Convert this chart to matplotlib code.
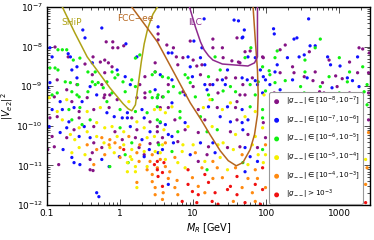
import numpy as np
import matplotlib
matplotlib.use("Agg")
import matplotlib.pyplot as plt
from matplotlib.ticker import LogLocator, NullFormatter

# ---------------- data (log10 M_R [GeV], log10 |V_e2|^2) ----------------
purple_logM = [-0.19,-0.10,0.05,-0.10,-0.03,-0.89,-0.71,-0.37,-0.21,-0.16,-0.27,-0.11,-0.48,-0.38,-0.21,0.34,-0.59,-0.86,-0.25,-0.73,-0.21,0.27,0.34,
               0.52,0.52,0.96,1.27,1.60,0.64,0.73,1.27,1.40,1.78,1.71,0.77,0.86,1.00,1.41,1.62,1.53,1.64,1.95,0.48,0.79,1.05,1.12,0.48,1.10,1.33,1.45,1.58,1.81,0.66,1.00,1.23,1.68,0.86,1.34,1.64,1.71,1.60,
               2.26,3.27,3.32,2.19,2.59,1.96,2.86,3.41,2.36,3.14,2.19,2.38,2.67,3.25,2.52,2.64,2.95,3.04,3.40,2.77,2.97,2.11,2.73,2.79,3.14,3.40,2.63,
               -0.90,-0.66,-0.45,-0.22,-0.14,-0.04,0.23,0.34,0.58,-0.56,-0.36,-0.15,0.55,-0.96,-0.86,-0.56,0.16,0.41,-0.63,-0.36,-0.07,0.23,0.51,-0.93,-0.73,0.03,0.21,0.58,-0.36,0.41,-0.90,-0.25,0.26,-0.38,0.33,-0.41,-0.84,-0.41,-0.37,-0.99,
               0.66,1.07,1.33,1.58,0.75,1.16,1.60,1.96,0.51,0.89,1.07,1.51,1.75,1.99,0.52,0.79,1.21,1.47,1.64,1.88,1.19,1.07,3.40]
purple_logV = [-7.88,-7.88,-7.98,-8.03,-8.03,-8.01,-8.26,-8.26,-8.34,-8.41,-8.39,-8.51,-8.44,-8.71,-8.66,-8.76,-8.96,-8.84,-8.96,-9.09,-9.22,-8.96,-9.17,
               -7.68,-7.83,-7.86,-7.81,-7.78,-7.96,-8.03,-8.03,-8.03,-8.11,-8.13,-8.26,-8.28,-8.34,-8.28,-8.39,-8.36,-8.41,-8.26,-8.41,-8.46,-8.49,-8.46,-8.64,-8.71,-8.84,-8.79,-8.79,-8.79,-8.96,-9.01,-8.96,-8.96,-9.14,-9.17,-9.22,-9.22,-9.39,
               -7.96,-8.03,-8.06,-8.08,-8.13,-8.28,-8.34,-8.16,-8.51,-8.39,-8.66,-8.66,-8.64,-8.66,-8.76,-8.86,-8.74,-8.81,-8.66,-8.91,-9.01,-9.17,-9.14,-9.17,-9.17,-9.17,-9.29,
               -9.27,-9.39,-9.29,-9.29,-9.22,-9.34,-9.29,-9.29,-9.27,-9.64,-9.59,-9.54,-9.54,-9.80,-9.77,-9.80,-9.80,-9.90,-10.10,-10.02,-10.15,-10.10,-10.02,-10.27,-10.30,-10.35,-10.30,-10.30,-10.43,-10.45,-10.53,-10.55,-10.55,-10.68,-10.73,-10.85,-10.98,-11.11,-11.13,-10.60,
               -9.54,-9.59,-9.54,-9.54,-9.85,-9.85,-9.85,-9.92,-10.15,-10.10,-10.17,-10.15,-10.22,-10.30,-10.43,-10.40,-10.53,-10.55,-10.53,-10.55,-10.73,-10.90,-9.85]

blue_logM = [-0.25,-0.51,-0.48,0.08,-0.96,-0.93,-0.71,-0.68,-0.38,0.23,-0.59,-0.66,-0.04,0.07,-0.59,-0.96,-0.41,-0.99,0.14,0.48,
             0.52,1.15,1.56,1.62,1.70,1.68,1.67,1.01,1.12,0.66,0.71,0.93,1.10,1.75,1.85,0.96,1.16,1.47,1.92,0.55,0.71,0.99,1.40,1.67,1.74,1.85,1.96,1.16,1.27,1.44,1.88,0.89,1.19,1.95,0.71,
             2.58,2.10,2.11,2.38,2.42,2.60,2.67,2.52,2.45,2.84,3.25,2.29,2.15,3.01,2.88,2.12,1.99,2.56,2.36,3.11,3.18,2.05,2.90,3.27,2.19,2.84,3.21,
             -0.82,-0.52,-0.32,0.51,-0.93,-0.79,-0.63,-0.18,0.10,0.30,-0.70,-0.08,0.03,0.10,0.33,0.62,-0.97,-0.73,-0.49,0.14,0.41,-0.82,-0.56,-0.41,0.30,0.40,0.58,-0.66,-0.63,-0.25,-0.01,0.33,-0.15,-0.32,-0.29,-0.78,-0.55,
             1.21,1.47,1.67,0.55,0.89,1.37,1.51,1.67,1.75,0.66,0.71,1.68,0.73,1.10,1.27,1.71,0.52,0.96,1.30,1.78,1.88,1.71,0.66]
blue_logV = [-7.53,-7.58,-7.78,-7.93,-8.03,-8.26,-8.18,-8.26,-8.41,-8.26,-8.51,-8.59,-8.59,-8.76,-8.79,-8.91,-9.01,-9.04,-8.96,-9.09,
             -7.50,-7.30,-7.33,-7.35,-7.58,-7.76,-7.78,-7.86,-8.03,-8.16,-8.16,-8.26,-8.28,-8.26,-8.28,-8.51,-8.46,-8.59,-8.59,-8.71,-8.84,-8.76,-8.84,-8.79,-8.84,-8.86,-8.76,-8.96,-8.96,-8.96,-8.96,-9.22,-9.09,-9.17,-9.42,
             -7.30,-7.55,-7.68,-7.81,-7.78,-7.98,-7.98,-8.21,-8.26,-8.26,-8.26,-8.28,-8.46,-8.49,-8.46,-8.64,-8.84,-8.79,-8.84,-8.79,-8.86,-8.96,-9.04,-9.01,-9.09,-9.22,-9.22,
             -9.39,-9.39,-9.22,-9.29,-9.59,-9.59,-9.54,-9.67,-9.67,-9.59,-9.90,-9.77,-9.80,-9.80,-9.80,-9.97,-10.02,-10.05,-10.02,-10.02,-10.15,-10.17,-10.27,-10.30,-10.35,-10.60,-10.60,-10.80,-10.93,-10.85,-10.78,-10.78,-11.03,-11.69,-11.79,-10.60,-10.98,
             -9.52,-9.52,-9.59,-9.92,-9.92,-9.77,-9.90,-9.92,-9.85,-10.22,-10.27,-10.10,-10.43,-10.43,-10.43,-10.55,-10.68,-10.73,-10.68,-10.78,-10.90,-11.16,-11.48]

green_logM = [-0.73,-0.79,-0.85,-0.64,-0.55,0.21,0.27,-0.96,-0.89,-0.85,-0.44,-0.34,-0.11,-0.03,-0.07,0.04,0.16,0.44,0.48,-0.75,-0.68,-0.58,-0.38,-0.34,-0.30,-0.18,-0.44,-0.93,-0.86,-0.66,-0.59,-0.23,-0.11,0.21,0.41,0.07,
              1.79,1.30,1.71,1.37,1.95,0.58,0.66,0.89,0.93,1.21,1.89,0.73,0.96,1.51,1.78,0.52,0.59,0.66,0.82,1.03,1.21,1.26,1.41,1.58,1.85,0.51,
              2.74,2.67,2.15,3.00,2.12,2.53,2.04,2.05,2.53,3.32,3.14,2.26,2.86,3.11,2.12,2.47,2.74,3.38,1.99,2.52,3.00,3.34,
              -0.56,-0.18,0.44,-0.70,-0.55,0.00,0.21,0.37,-0.66,-0.41,-0.52,0.55,0.00,0.16,0.53,0.07,0.11,-0.14,
              0.51,0.82,1.78,1.95,0.51,0.82,1.10,1.95,0.79,1.19,1.33,1.95,0.71,1.68,1.19,3.38]
green_logV = [-8.08,-8.08,-8.08,-8.34,-8.29,-8.29,-8.21,-8.54,-8.54,-8.59,-8.64,-8.64,-8.64,-8.71,-8.79,-8.89,-8.84,-8.71,-8.64,-8.89,-8.91,-8.96,-8.89,-8.96,-8.91,-8.89,-9.14,-9.22,-9.17,-9.14,-9.22,-9.04,-9.17,-9.01,-9.14,-9.14,
              -8.03,-8.26,-8.28,-8.59,-8.51,-8.76,-8.79,-8.71,-8.79,-8.76,-8.89,-9.01,-8.91,-9.01,-8.96,-9.22,-9.27,-9.14,-9.17,-9.27,-9.22,-9.34,-9.12,-9.14,-9.22,-9.29,
              -7.81,-8.03,-8.11,-8.28,-8.28,-8.34,-8.61,-8.71,-8.64,-8.51,-8.64,-8.86,-8.76,-8.89,-8.91,-9.01,-9.01,-8.96,-9.12,-9.17,-9.17,-9.14,
              -9.27,-9.39,-9.29,-9.59,-9.54,-9.59,-9.64,-9.67,-9.85,-9.85,-9.97,-9.90,-10.05,-10.43,-10.48,-10.73,-10.93,-11.03,
              -9.52,-9.64,-9.52,-9.59,-9.85,-9.80,-9.77,-9.80,-10.15,-10.15,-10.10,-10.60,-10.65,-10.93,-11.11,-9.47]

yellow_logM = [1.23,1.51,1.97,
               -0.97,-0.73,0.12,-0.86,-0.45,-0.27,0.47,0.62,-0.79,-0.32,0.23,-0.56,-0.45,-0.21,-0.11,0.05,0.33,0.60,-0.68,-0.62,-0.32,-0.04,0.37,0.47,-0.22,0.05,-0.56,-0.14,0.16,0.33,0.48,-0.66,-0.48,-0.08,0.14,0.55,0.16,0.10,0.21,0.23,0.10,0.37,0.21,
               0.55,0.71,1.14,1.40,1.85,1.71,0.93,1.26,1.58,1.85,1.95,0.58,0.86,1.00,1.34,1.41,1.55,1.81,0.85,1.37,1.89,0.62,0.79,1.16,1.75,1.96,0.89,1.47,3.36,1.99]
yellow_logV = [-9.34,-9.42,-9.22,
               -9.29,-9.34,-9.39,-9.64,-9.64,-9.54,-9.59,-9.67,-9.85,-9.92,-9.90,-10.05,-10.15,-10.05,-10.02,-10.15,-10.05,-10.10,-10.22,-10.35,-10.27,-10.27,-10.30,-10.27,-10.43,-10.48,-10.55,-10.55,-10.60,-10.65,-10.65,-10.68,-10.73,-10.68,-10.78,-10.68,-10.85,-11.16,-11.16,-11.56,-10.93,-11.03,-11.03,
               -9.59,-9.52,-9.54,-9.59,-9.64,-9.77,-10.02,-10.02,-10.22,-10.27,-10.05,-10.48,-10.48,-10.48,-10.48,-10.43,-10.60,-10.48,-10.65,-10.80,-10.73,-10.85,-10.93,-10.90,-10.98,-10.93,-11.06,-11.11,-10.85,-10.73]

orange_logM = [-0.25,-0.14,0.12,-0.45,-0.15,-0.07,0.27,0.62,-0.32,0.00,-0.21,0.23,0.44,0.00,0.26,0.41,0.55,-0.36,0.37,0.44,0.23,0.44,0.48,0.48,
               1.03,1.67,0.75,1.27,0.51,0.62,0.68,1.12,1.33,1.58,1.85,0.66,0.78,0.99,1.27,1.40,1.75,1.88,0.75,1.07,1.67,0.59,0.79,1.16,1.81,0.58,1.55,1.85,
               3.40,3.38,3.36,2.81,1.99,1.99]
orange_logV = [-10.30,-10.35,-10.27,-10.48,-10.48,-10.43,-10.48,-10.43,-10.60,-10.55,-10.73,-10.68,-10.73,-10.80,-10.90,-10.90,-10.85,-10.98,-11.11,-11.23,-11.43,-11.41,-11.56,-11.74,
               -10.68,-10.73,-10.80,-10.90,-11.06,-11.03,-11.16,-11.06,-11.06,-11.06,-11.11,-11.33,-11.38,-11.31,-11.33,-11.31,-11.33,-11.33,-11.56,-11.53,-11.56,-11.69,-11.74,-11.69,-11.69,-11.86,-11.91,-11.91,
               -10.17,-11.06,-11.48,-11.99,-10.48,-11.56]

red_logM = [0.05,0.47,0.60,0.51,0.58,
            0.51,0.93,1.95,0.52,1.16,1.60,0.58,0.93,1.21,1.51,1.85,1.95,0.99,1.07,1.30,1.47,1.60,0.85,1.05,1.26,1.34,1.71,1.92,2.16,2.30,2.58,2.92,3.12,3.36]
red_logV = [-10.60,-10.98,-10.93,-11.11,-11.18,
            -10.90,-11.11,-11.06,-11.28,-11.23,-11.28,-11.53,-11.48,-11.43,-11.53,-11.48,-11.61,-11.66,-11.74,-11.69,-11.61,-11.74,-11.91,-11.94,-11.91,-11.98,-11.94,-11.98,-11.98,-11.96,-11.98,-11.98,-11.98,-11.94]

# sensitivity curves (log10 M, log10 |V|^2)
ship_logM = [-0.79,-0.62,-0.45,-0.27,-0.14,0.04,0.11,0.16,0.21,0.25,0.29,0.33,0.38,0.45,0.51]
ship_logV = [-7.00,-7.65,-8.26,-8.71,-9.04,-9.44,-9.57,-9.62,-9.47,-8.94,-8.39,-7.93,-7.53,-7.18,-7.00]
fcc_logM = [0.16,0.34,0.51,0.68,0.82,0.96,1.10,1.23,1.37,1.48,1.59,1.68,1.78,1.84,1.88,1.89,1.88,1.85,1.82]
fcc_logV = [-7.00,-7.45,-7.88,-8.46,-8.94,-9.42,-9.82,-10.22,-10.63,-10.88,-11.01,-10.93,-10.60,-10.22,-9.72,-9.22,-8.59,-7.83,-7.00]
ilc_logM = [0.95,1.03,1.10,1.15,1.21,1.27,1.40,1.75,1.84,1.88,1.88]
ilc_logV = [-7.00,-7.50,-7.88,-8.08,-8.23,-8.34,-8.44,-8.49,-8.41,-8.26,-7.00]

legend_labels = [r"$|g_{--}|\in[10^{-8},10^{-7}]$",
                 r"$|g_{--}|\in[10^{-7},10^{-6}]$",
                 r"$|g_{--}|\in[10^{-6},10^{-5}]$",
                 r"$|g_{--}|\in[10^{-5},10^{-4}]$",
                 r"$|g_{--}|\in[10^{-4},10^{-3}]$",
                 r"$|g_{--}|>10^{-3}$"]
xtick_vals = [0.1, 1, 10, 100, 1000]
xtick_labels = ["0.1", "1", "10", "100", "1000"]

# ---------------- figure ----------------
plt.rcParams['font.family'] = ['DejaVu Sans']
plt.rcParams['mathtext.fontset'] = 'dejavusans'
fig = plt.figure(figsize=(3.74, 2.40), dpi=100)
ax = fig.add_axes([47/374, 1-205/240, 323/374, 198/240])
ax.set_xscale('log')
ax.set_yscale('log')
ax.set_xlim(0.1, 2630)
ax.set_ylim(1e-12, 1e-7)

series = [(purple_logM, purple_logV, '#851385'),
          (blue_logM, blue_logV, '#1010ff'),
          (green_logM, green_logV, '#10f010'),
          (yellow_logM, yellow_logV, '#f5f000'),
          (orange_logM, orange_logV, '#ff8a10'),
          (red_logM, red_logV, '#f01010')]
for (lm, lv, c), lab in zip(series, legend_labels):
    ax.scatter(10**np.array(lm), 10**np.array(lv), s=5.5, color=c, edgecolors='none',
               label=lab, zorder=2)

ship_c, fcc_c, ilc_c = '#aea215', '#b5661f', '#8e2a8e'
ax.plot(10**np.array(ship_logM), 10**np.array(ship_logV), color=ship_c, lw=1.1, zorder=3)
ax.plot(10**np.array(fcc_logM), 10**np.array(fcc_logV), color=fcc_c, lw=1.1, zorder=3)
ax.plot(10**np.array(ilc_logM), 10**np.array(ilc_logV), color=ilc_c, lw=1.1, zorder=3)

ax.text(10**-0.66, 10**-7.40, "SHiP", color=ship_c, fontsize=6.5, ha='center', va='center')
ax.text(10**0.21, 10**-7.28, "FCC\u2212ee", color=fcc_c, fontsize=6.5, ha='center', va='center')
ax.text(10**1.03, 10**-7.40, "ILC", color=ilc_c, fontsize=6.5, ha='center', va='center')

ax.set_xticks(xtick_vals)
ax.set_xticklabels(xtick_labels)
ax.xaxis.set_minor_locator(LogLocator(base=10, subs=np.arange(2, 10), numticks=20))
ax.xaxis.set_minor_formatter(NullFormatter())
ax.yaxis.set_major_locator(LogLocator(base=10, numticks=10))
ax.yaxis.set_minor_locator(LogLocator(base=10, subs=np.arange(2, 10), numticks=20))
ax.yaxis.set_minor_formatter(NullFormatter())
ax.tick_params(which='both', direction='in', top=True, right=True, labelsize=6.5, width=0.6, color='#333333')
ax.tick_params(which='major', length=4, pad=3)
ax.tick_params(which='minor', length=2)
for sp in ax.spines.values():
    sp.set_linewidth(1.0)

ax.set_xlabel(r"$M_R$ [GeV]", fontsize=7, labelpad=2)
ax.set_ylabel(r"$|V_{e2}|^2$", fontsize=7, labelpad=1)

leg = ax.legend(loc='lower right', bbox_to_anchor=(0.978, 0.006), borderaxespad=0,
                fontsize=5.2, markerscale=1.5, handlelength=1.3, handletextpad=0.7,
                borderpad=0.35, labelspacing=0.74, frameon=True, fancybox=True,
                edgecolor='#999999', framealpha=1.0, scatterpoints=1)
leg.get_frame().set_linewidth(0.8)
leg.set_zorder(5)

fig.savefig("out.png", dpi=100)
